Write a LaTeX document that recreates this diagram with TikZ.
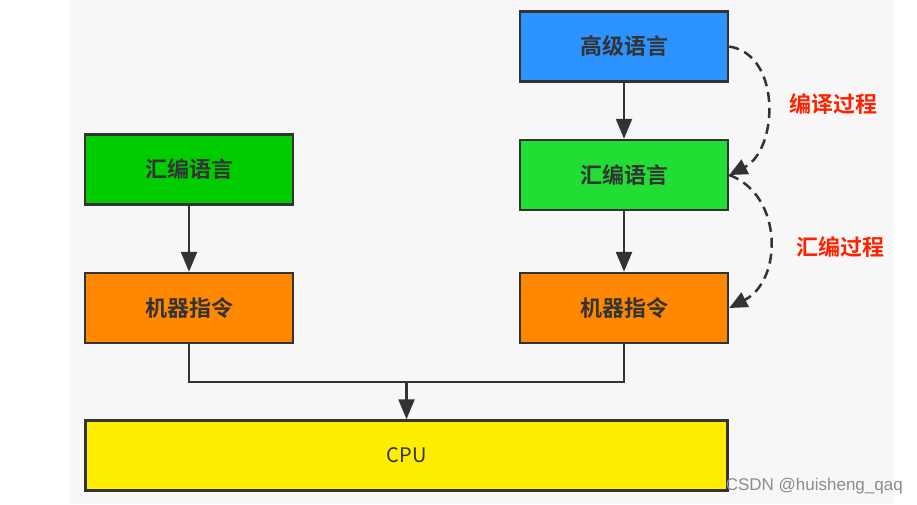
\documentclass[tikz,border=0pt]{standalone}
\usepackage{fontspec}
\setmainfont{Noto Sans CJK SC}
\newfontfamily\cjkb{Noto Sans CJK SC Bold}
\newfontfamily\wmfont{Liberation Sans}
\usetikzlibrary{arrows.meta}
\definecolor{bgc}{HTML}{F6F7F6}
\definecolor{edge}{HTML}{333333}
\definecolor{cblue}{HTML}{2C93FF}
\definecolor{cgreenA}{HTML}{00CC00}
\definecolor{cgreenB}{HTML}{22DD33}
\definecolor{corange}{HTML}{FF8800}
\definecolor{cyellow}{HTML}{FFEE00}
\definecolor{cred}{HTML}{FF2200}
\tikzset{
  box/.style={draw=edge, line width=2.5pt, minimum width=208pt, minimum height=70pt, inner sep=0pt,
    font=\cjkb\fontsize{22}{26}\selectfont, text=edge},
  conn/.style={draw=edge, line width=2.5pt, -{Triangle[length=20pt,width=16pt]}},
  plain/.style={draw=edge, line width=2.5pt},
  dashconn/.style={draw=edge, line width=2.5pt, dash pattern=on 10pt off 6pt, -{Triangle[length=18pt,width=16pt]}},
  redlab/.style={text=cred, font=\cjkb\fontsize{22}{26}\selectfont}
}
\begin{document}
\begin{tikzpicture}[x=1pt,y=1pt]
\useasboundingbox (0,0) rectangle (917,-504);
\fill[white] (0,0) rectangle (917,-504);
\fill[bgc] (70,0) rectangle (894,-504);
% left column
\node[box, fill=cgreenA] (lh) at (189,-169.5) {汇编语言};
\node[box, fill=corange] (lm) at (189,-308) {机器指令};
% right column
\node[box, fill=cblue] (rg) at (624,-46.5) {高级语言};
\node[box, fill=cgreenB] (rh) at (624,-175) {汇编语言};
\node[box, fill=corange] (rm) at (624,-308) {机器指令};
% CPU
\node[box, fill=cyellow, minimum width=642pt, font=\fontsize{20}{24}\selectfont] (cpu) at (406.5,-455.5) {CPU};
% connectors
\draw[conn] (lh) -- (lm);
\draw[conn] (rg) -- (rh);
\draw[conn] (rh) -- (rm);
\coordinate (jn) at (406.5,-382);
\draw[plain] (lm.south) |- (jn);
\draw[plain] (rm.south) |- (jn);
\draw[conn] (jn) -- (cpu.north);
% dashed process arcs
\draw[dashconn] (rg.east) .. controls (782,-55) and (778,-150) .. (rh.east);
\draw[dashconn] (rh.east) .. controls (783,-195) and (783,-280) .. (rm.east);
\node[redlab] (l1) at (833,-104) {编译过程};
\node[redlab] (l2) at (840,-247) {汇编过程};
% watermark
\node[anchor=base east, text=black!45, font=\wmfont\fontsize{17}{20}\selectfont, inner sep=0pt] (wm) at (903,-490) {CSDN @huisheng\_qaq};
\end{tikzpicture}
\end{document}
